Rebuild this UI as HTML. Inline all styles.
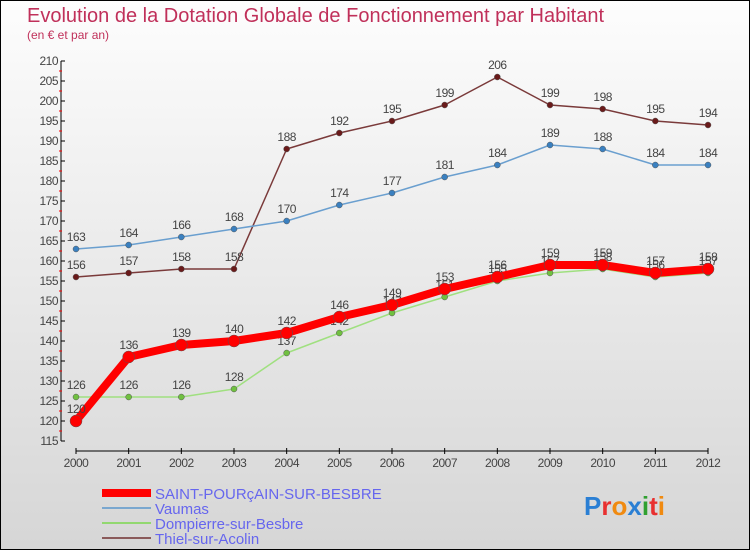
<!DOCTYPE html>
<html><head><meta charset="utf-8"><style>
body{margin:0;}
#c{width:748px;height:548px;border:1px solid #000;background:linear-gradient(#fdfdfd,#d6d6d6);position:relative;font-family:"Liberation Sans",sans-serif;overflow:hidden}
</style></head><body>
<div id="c">
<svg width="748" height="548" id="s">
<text x="26" y="21" font-size="20" fill="#c0305a">Evolution de la Dotation Globale de Fonctionnement par Habitant</text>
<text x="26" y="38" font-size="12" fill="#c0305a">(en € et par an)</text>
<g id="axes"></g><g id="series"></g>
<g>
<line x1="101" y1="492" x2="150" y2="492" stroke="#f00" stroke-width="8"/>
<text x="154" y="498" font-size="15" fill="#6666ee">SAINT-POURçAIN-SUR-BESBRE</text>
<line x1="101" y1="507" x2="150" y2="507" stroke="#7aa7cf" stroke-width="2"/>
<text x="154" y="513" font-size="15" fill="#6666ee">Vaumas</text>
<line x1="101" y1="522" x2="150" y2="522" stroke="#92d870" stroke-width="2"/>
<text x="154" y="528" font-size="15" fill="#6666ee">Dompierre-sur-Besbre</text>
<line x1="101" y1="537" x2="150" y2="537" stroke="#8a5a5a" stroke-width="2"/>
<text x="154" y="543" font-size="15" fill="#6666ee">Thiel-sur-Acolin</text>
</g>
<text x="583" y="514" font-size="26" font-weight="bold"><tspan fill="#2a7fd4">P</tspan><tspan fill="#e83030">r</tspan><tspan fill="#f08a10">o</tspan><tspan fill="#2a7fd4">x</tspan><tspan fill="#30a030">i</tspan><tspan fill="#e83030">t</tspan><tspan fill="#f08a10">i</tspan></text>
</svg></div>
<script>
const years=[2000,2001,2002,2003,2004,2005,2006,2007,2008,2009,2010,2011,2012];
const saint=[120,136,139,140,142,146,149,153,156,159,159,157,158];
const vaumas=[163,164,166,168,170,174,177,181,184,189,188,184,184];
const dompierre=[126,126,126,128,137,142,147,151,155,157,158,156,157];
const thiel=[156,157,158,158,188,192,195,199,206,199,198,195,194];
const yTicks=[115,120,125,130,135,140,145,150,155,160,165,170,175,180,185,190,195,200,205,210];
const NS="http://www.w3.org/2000/svg";
const X=i=>75+i*(707-75)/(years.length-1);
const Y=v=>440-(v-115)*4;
function mk(t,a,p){const e=document.createElementNS(NS,t);for(const k in a)e.setAttribute(k,a[k]);p.appendChild(e);return e;}
const ax=document.getElementById('axes');
const yl=mk('line',{x1:60,y1:Y(210),x2:60,y2:Y(115),stroke:'#000'},ax);


const xl=mk('line',{x1:X(0),y1:450,x2:X(12),y2:450,stroke:'#000'},ax);


yTicks.forEach(v=>{
 mk('line',{x1:60,y1:Y(v),x2:64,y2:Y(v),stroke:'#000'},ax);
 if(v<210)mk('line',{x1:58,y1:Y(v+2.5),x2:61,y2:Y(v+2.5),stroke:'#f00'},ax);
 const t=mk('text',{x:57,y:Y(v)+4,'font-size':12,fill:'#444','text-anchor':'end','letter-spacing':'-0.5'},ax);
 t.textContent=v;
 
 
});
years.forEach((y,i)=>{
 mk('line',{x1:X(i),y1:447,x2:X(i),y2:453,stroke:'#000'},ax);
 const t=mk('text',{x:X(i),y:466,'font-size':12,fill:'#444','text-anchor':'middle','letter-spacing':'-0.5'},ax);
 t.textContent=y;
 
 
});
const sg=document.getElementById('series');
function series(vals,color,w,r,name,dot){
 const g=mk('g',{},sg);
 
 
 mk('polyline',{points:vals.map((v,i)=>X(i)+','+Y(v)).join(' '),fill:'none',stroke:color,'stroke-width':w,'stroke-linejoin':'round'},g);
 vals.forEach((v,i)=>{
  const c=mk('circle',{cx:X(i),cy:Y(v),r:r,fill:dot,stroke:'#555','stroke-width':0.5},g);
  
  
  const t=mk('text',{x:X(i),y:Y(v)-8,'font-size':12,fill:'#444','text-anchor':'middle','letter-spacing':'-0.5'},g);
  t.textContent=v;
  
  
 });
}
series(thiel,'#7a3a3a',1.5,3,'series-thiel','#6a1a1a');
series(vaumas,'#6a9fcf',1.5,3,'series-vaumas','#3a80c0');
series(dompierre,'#a0e080',1.5,3,'series-dompierre','#70c040');
series(saint,'#f00',8,6,'series-saint','#f00');
</script>
</body></html>
